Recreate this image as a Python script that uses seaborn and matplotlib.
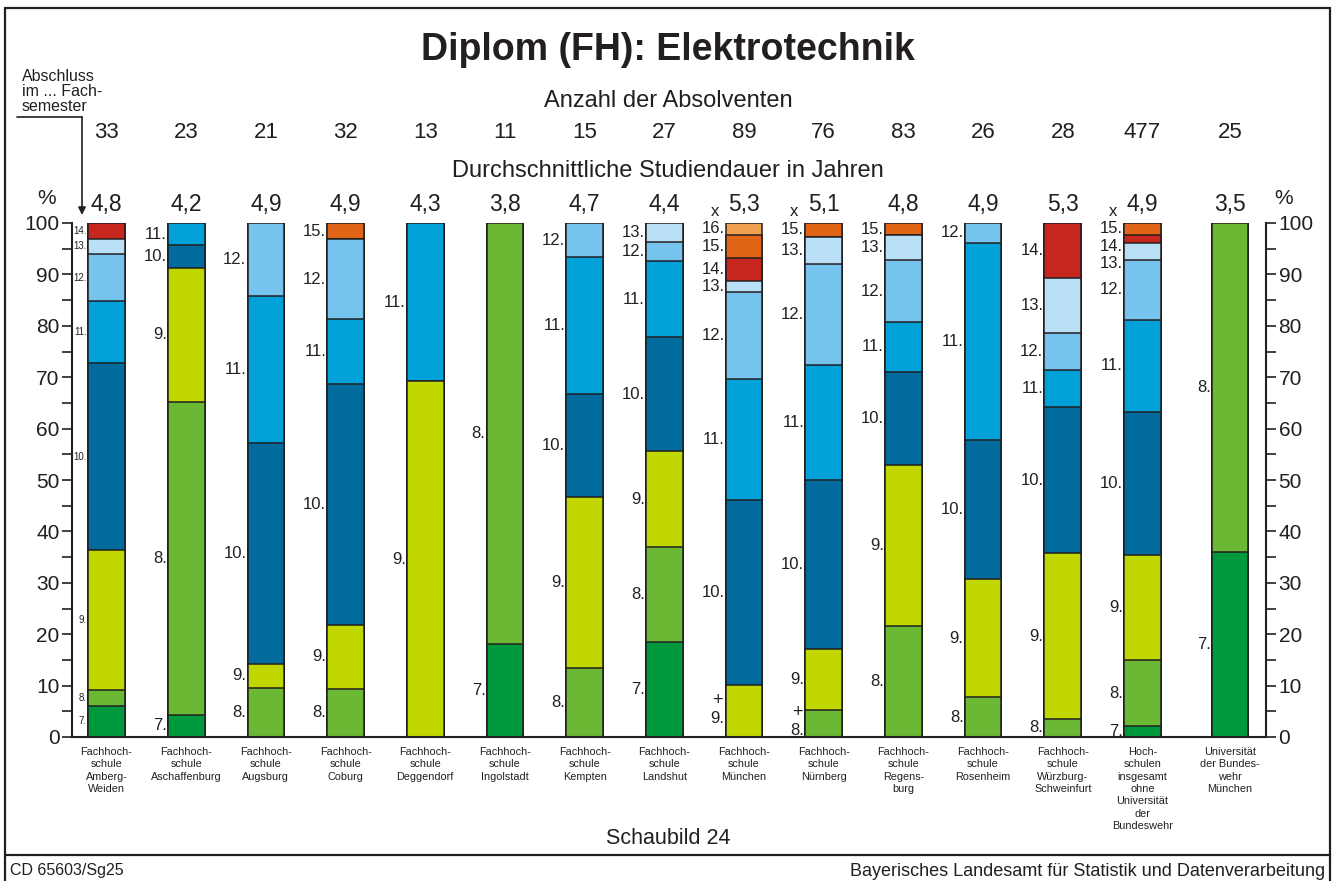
import numpy as np
import pandas as pd
import matplotlib.pyplot as plt
import seaborn as sns
from matplotlib import transforms
from matplotlib.lines import Line2D
from matplotlib.ticker import MultipleLocator

# ==============================
# Data
# ==============================
schools = [
    "Fachhoch-\nschule\nAmberg-\nWeiden", "Fachhoch-\nschule\nAschaffenburg",
    "Fachhoch-\nschule\nAugsburg", "Fachhoch-\nschule\nCoburg",
    "Fachhoch-\nschule\nDeggendorf", "Fachhoch-\nschule\nIngolstadt",
    "Fachhoch-\nschule\nKempten", "Fachhoch-\nschule\nLandshut",
    "Fachhoch-\nschule\nMünchen", "Fachhoch-\nschule\nNürnberg",
    "Fachhoch-\nschule\nRegens-\nburg", "Fachhoch-\nschule\nRosenheim",
    "Fachhoch-\nschule\nWürzburg-\nSchweinfurt",
    "Hoch-\nschulen\ninsgesamt\nohne\nUniversität\nder\nBundeswehr",
    "Universität\nder Bundes-\nwehr\nMünchen",
]
absolventen = [33, 23, 21, 32, 13, 11, 15, 27, 89, 76, 83, 26, 28, 477, 25]
studiendauer = ["4,8", "4,2", "4,9", "4,9", "4,3", "3,8", "4,7", "4,4",
                "5,3", "5,1", "4,8", "4,9", "5,3", "4,9", "3,5"]

# graduates by Fachsemester of the degree
sem_7 = [2, 1, 0, 0, 0, 2, 0, 5, 0, 0, 0, 0, 0, 10, 9]
sem_8 = [1, 14, 2, 3, 0, 9, 2, 5, 0, 4, 18, 2, 1, 61, 16]
sem_9 = [9, 6, 1, 4, 9, 0, 5, 5, 9, 9, 26, 6, 9, 98, 0]
sem_10 = [12, 1, 9, 15, 0, 0, 3, 6, 32, 25, 15, 7, 8, 133, 0]
sem_11 = [4, 1, 6, 4, 4, 0, 4, 4, 21, 17, 8, 10, 2, 85, 0]
sem_12 = [3, 0, 3, 5, 0, 0, 1, 1, 15, 15, 10, 1, 2, 56, 0]
sem_13 = [1, 0, 0, 0, 0, 0, 0, 1, 2, 4, 4, 0, 3, 15, 0]
sem_14 = [1, 0, 0, 0, 0, 0, 0, 0, 4, 0, 0, 0, 3, 8, 0]
sem_15 = [0, 0, 0, 1, 0, 0, 0, 0, 4, 2, 2, 0, 0, 11, 0]
sem_16 = [0, 0, 0, 0, 0, 0, 0, 0, 2, 0, 0, 0, 0, 0, 0]

semester = [7, 8, 9, 10, 11, 12, 13, 14, 15, 16]
sem_colors = ["#009a3e", "#6ab833", "#c0d800", "#006b9c", "#00a1d9",
              "#76c3ee", "#b9e0f7", "#c6261e", "#e06517", "#f0a050"]

# bars with "x" above and "+" near the bottom label
x_marks = [8, 9, 13]
plus_marks = [8, 9]

# ==============================
# Prepare
# ==============================
counts = pd.DataFrame(np.array([sem_7, sem_8, sem_9, sem_10, sem_11, sem_12,
                                sem_13, sem_14, sem_15, sem_16]).T,
                      columns=semester, index=schools)
pct = counts.div(absolventen, axis=0) * 100
cum = pct.cumsum(axis=1)
long = cum.reset_index().melt(id_vars="index", var_name="semester", value_name="top")

# ==============================
# Figure
# ==============================
sns.set_style("ticks")
plt.rcParams["font.family"] = ["Liberation Sans", "DejaVu Sans"]
ink = "#231f20"

W, H = 1332, 881
fig = plt.figure(figsize=(W / 100, H / 100), dpi=100)
ax = fig.add_axes([72 / W, 1 - 737 / H, (1266 - 72) / W, 514 / H])

# stacked bars: draw cumulative tops from the highest semester down
for sem, col in zip(reversed(semester), reversed(sem_colors)):
    sub = long[long["semester"] == sem]
    sns.barplot(data=sub, x="index", y="top", order=schools, color=col,
                saturation=1, width=0.46, edgecolor=ink, linewidth=1.1,
                errorbar=None, ax=ax)

# the last bar stands a little apart
pos = np.arange(len(schools), dtype=float)
pos[-1] += 0.1
for p in ax.patches:
    if p.get_x() + p.get_width() / 2 > len(schools) - 1.5:
        p.set_x(p.get_x() + 0.1)

ax.set_xlim(-0.433, 14.55)
ax.set_ylim(0, 100)
ax.set_xlabel("")
ax.set_ylabel("")
ax.set_xticks(pos)
ax.set_xticklabels(schools, fontsize=7.8, linespacing=1.3, color=ink)
ax.tick_params(axis="x", length=0, pad=7)
ax.set_yticks(range(0, 101, 10))
ax.yaxis.set_minor_locator(MultipleLocator(5))
ax.tick_params(axis="y", which="both", direction="out", length=7, width=1.2,
               left=True, right=True, labelleft=True, labelright=True,
               labelsize=15, pad=2, colors=ink)
ax.spines["top"].set_visible(False)
for s in ["left", "right", "bottom"]:
    ax.spines[s].set_linewidth(1.5)
    ax.spines[s].set_color(ink)

# segment labels left of each bar
for i, school in enumerate(schools):
    small = i == 0
    gap = 2.7 if small else 3.4
    fs = 7 if small else 12
    prev = 200
    lab = []
    for sem in reversed(semester):
        v = pct.loc[school, sem]
        if v <= 0:
            continue
        y = cum.loc[school, sem] - v / 2
        y = min(y, prev - gap)
        prev = y
        lab.append((sem, y))
    for sem, y in lab:
        if i in plus_marks and y < 6:
            y = max(y - 1.5, 1.3)
            ax.text(pos[i] - 0.27, y + 3.5, "+", ha="right", va="center",
                    fontsize=13, color=ink)
        ax.text(pos[i] - 0.245, y, f"{sem}.", ha="right", va="center",
                fontsize=fs, color=ink)

# rows above the bars
tr = transforms.blended_transform_factory(ax.transData, fig.transFigure)
for i in range(len(schools)):
    fig.text(pos[i], 1 - 133 / H, str(absolventen[i]), transform=tr,
             ha="center", va="center", fontsize=16, color=ink)
    fig.text(pos[i], 1 - 205 / H, studiendauer[i], transform=tr,
             ha="center", va="center", fontsize=16.5, color=ink)
for i in x_marks:
    fig.text(pos[i] - 0.37, 1 - 212 / H, "x", transform=tr,
             ha="center", va="center", fontsize=12, color=ink)

fig.text(668 / W, 1 - 50 / H, "Diplom (FH): Elektrotechnik", ha="center",
         va="center", fontsize=27, fontweight="bold", color=ink)
fig.text(668 / W, 1 - 101 / H, "Anzahl der Absolventen", ha="center",
         va="center", fontsize=17, color=ink)
fig.text(668 / W, 1 - 171 / H, "Durchschnittliche Studiendauer in Jahren",
         ha="center", va="center", fontsize=17, color=ink)
fig.text(47 / W, 1 - 199 / H, "%", ha="center", va="center", fontsize=15, color=ink)
fig.text(1284 / W, 1 - 199 / H, "%", ha="center", va="center", fontsize=15, color=ink)
fig.text(668 / W, 1 - 838 / H, "Schaubild 24", ha="center", va="center",
         fontsize=15.5, color=ink)
fig.text(10 / W, 1 - 871 / H, "CD 65603/Sg25", ha="left", va="center",
         fontsize=11.5, color=ink)
fig.text(1325 / W, 1 - 871 / H,
         "Bayerisches Landesamt für Statistik und Datenverarbeitung",
         ha="right", va="center", fontsize=13, color=ink)

# "Abschluss im ... Fachsemester" pointer
fig.text(22 / W, 1 - 69 / H, "Abschluss\nim ... Fach-\nsemester", ha="left",
         va="top", fontsize=11.5, linespacing=1.02, color=ink)
fig.add_artist(Line2D([17 / W, 82 / W], [1 - 117 / H, 1 - 117 / H],
                      color=ink, lw=1.2))
ax.annotate("", xy=(82 / W, 1 - 215 / H), xytext=(82 / W, 1 - 117 / H),
            xycoords="figure fraction", textcoords="figure fraction",
            arrowprops=dict(arrowstyle="-|>", color=ink, lw=1.2,
                            mutation_scale=11, shrinkA=0, shrinkB=0))

# frame
for xs, ys in [([5, 1330], [8, 8]), ([5, 5], [8, 881]),
               ([1330, 1330], [8, 881]), ([5, 1330], [855, 855])]:
    fig.add_artist(Line2D([x / W for x in xs], [1 - y / H for y in ys],
                          color=ink, lw=1.6))

plt.savefig("out.png", dpi=100)
